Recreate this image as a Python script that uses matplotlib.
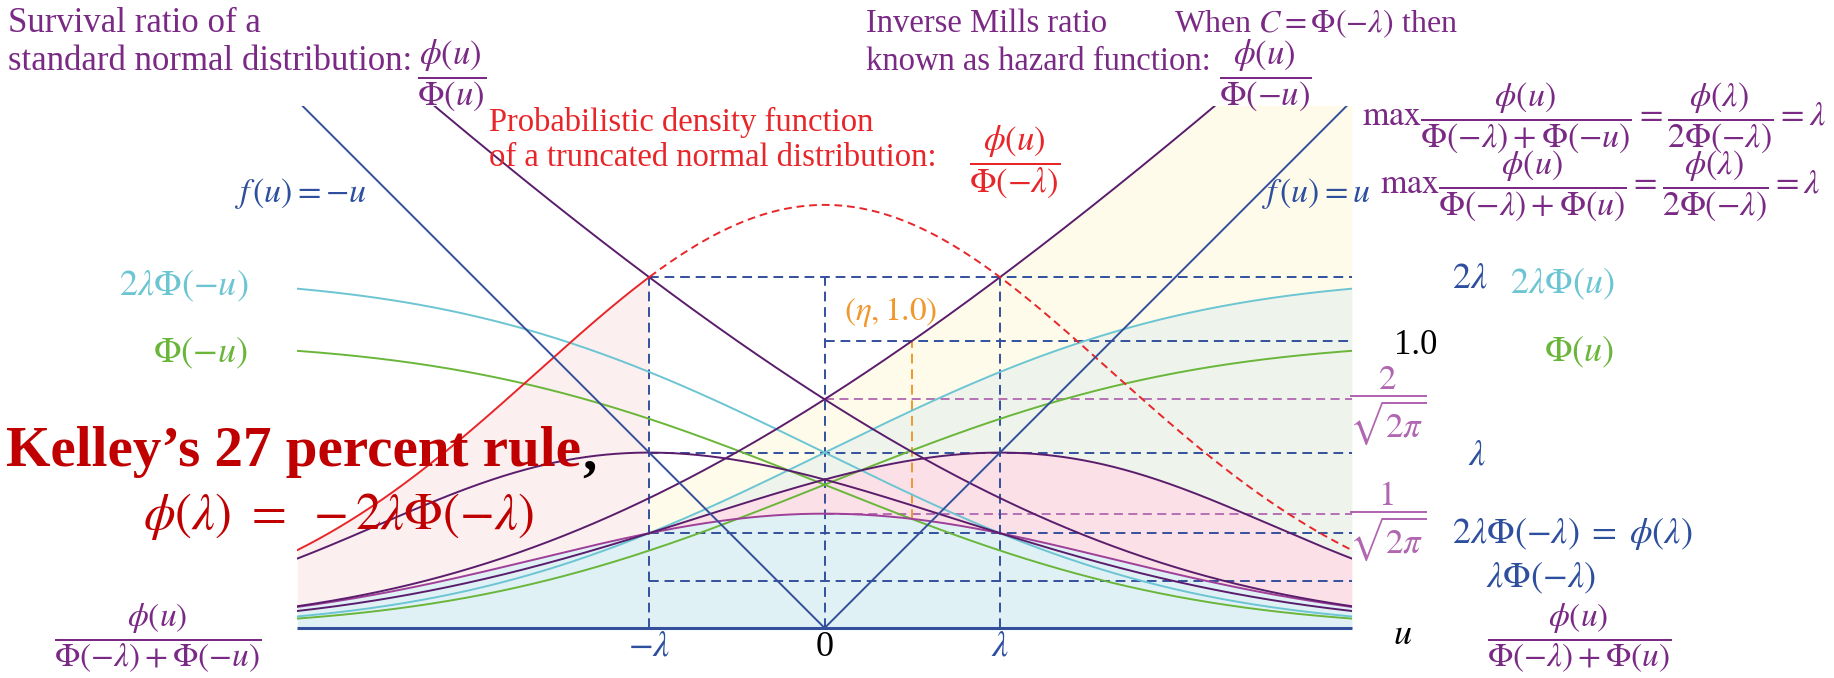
import math
import numpy as np
import matplotlib
matplotlib.use("Agg")
import matplotlib.pyplot as plt
from matplotlib.patches import Rectangle

plt.rcParams["mathtext.fontset"] = "stix"
plt.rcParams["font.family"] = ["Liberation Serif", "DejaVu Serif"]

# ---------------- data ----------------
LAM = 0.6121            # Kelley's lambda: phi(lam) = 2*lam*Phi(-lam)
ETA = 0.305             # u where the hazard function equals 1.0
U_RANGE = [-1.84, 1.84]
Y_TOP = 1.82
V_GUIDES = [-LAM, 0.0, LAM]
TICK_POS = [-LAM, 0.0, LAM]
TICK_LABELS = [r"$-\lambda$", "0", r"$\lambda$"]

# colours
BLUE = "#34509c"
PURPLE = "#5a1d6c"
MAGENTA = "#9e3f98"
MAG_DASH = "#b066b0"
CYAN = "#6cc5d2"
GREEN = "#6ab63a"
RED = "#e8262a"
ORANGE = "#f0982e"
TXT_PURPLE = "#7a2a85"
TXT_BLUE = "#2d4f9e"
KELLEY = "#c00000"
F_BLUE = "#e0f1f6"
F_PINK = "#fbe0e7"
F_PINK_L = "#fcefef"
F_IVORY = "#fffbea"
F_GRAY = "#eef3eb"

# ---------------- canvas ----------------
W, H = 1834, 678
X0, Y0, S = 824.6, 628.0, 286.6   # pixel of origin, pixels per unit
fig = plt.figure(figsize=(W / 100, H / 100), dpi=100)
ax = fig.add_axes([0, 0, 1, 1])
ax.set_xlim(-X0 / S, (W - X0) / S)
ax.set_ylim(-(H - Y0) / S, Y0 / S)
ax.axis("off")

clip = Rectangle((U_RANGE[0], -0.02), U_RANGE[1] - U_RANGE[0], Y_TOP + 0.02,
                 facecolor="none", edgecolor="none")
ax.add_patch(clip)


def phi(x):
    return np.exp(-x ** 2 / 2) / np.sqrt(2 * np.pi)


_erf = np.vectorize(math.erf)


def Phi(x):
    return 0.5 * (1 + _erf(np.asarray(x) / np.sqrt(2)))


u = np.linspace(U_RANGE[0], U_RANGE[1], 1500)
C = float(Phi(-LAM))
pdf = phi(u)
hazard = pdf / Phi(-u)
survival = pdf / Phi(u)
bell_r = pdf / (C + Phi(-u))
bell_l = pdf / (C + Phi(u))
trunc = pdf / C
cyan_r = 2 * LAM * Phi(u)
cyan_l = 2 * LAM * Phi(-u)
green_r = Phi(u)
green_l = Phi(-u)


def clipped(artist):
    artist.set_clip_path(clip)
    return artist


# ---------------- fills ----------------
clipped(ax.fill_between(u, cyan_r, np.minimum(hazard, 5), where=(u >= -LAM) & (hazard > cyan_r),
                        interpolate=True, color=F_IVORY, lw=0, zorder=1))
clipped(ax.fill_between(u, bell_r, cyan_r, where=(u >= -LAM) & (cyan_r > bell_r),
                        interpolate=True, color=F_GRAY, lw=0, zorder=1))
clipped(ax.fill_between(u, 0, pdf, color=F_BLUE, lw=0, zorder=2))
clipped(ax.fill_between(u, pdf, trunc, where=u <= -LAM, color=F_PINK_L, lw=0, zorder=2))
clipped(ax.fill_between(u, pdf, bell_r, where=u >= -LAM, interpolate=True,
                        color=F_PINK, lw=0, zorder=2))

# ---------------- guides ----------------
DASH = (5, 3)
lvl_blue = [(2 * LAM, -LAM), (1.0, 0.0), (LAM, -LAM), (float(phi(LAM)), -LAM),
            (LAM * C, -LAM)]
for lv, start in lvl_blue:
    ax.plot([start, U_RANGE[1]], [lv, lv], color=BLUE, lw=1.4, dashes=DASH, zorder=3)
for lv in [2 / math.sqrt(2 * math.pi), 1 / math.sqrt(2 * math.pi)]:
    ax.plot([0, U_RANGE[1]], [lv, lv], color=MAG_DASH, lw=1.3, dashes=DASH, zorder=3)
for xv in V_GUIDES:
    ax.plot([xv, xv], [0, 2 * LAM], color=BLUE, lw=1.4, dashes=DASH, zorder=3)
ax.plot([ETA, ETA], [float(phi(ETA)), 1.0], color=ORANGE, lw=1.4, dashes=DASH, zorder=3)

# ---------------- curves ----------------
LW = 1.4
ax.plot(U_RANGE, [0, 0], color=BLUE, lw=2.2, zorder=6, solid_capstyle="butt")
clipped(ax.plot(u, green_l, color=GREEN, lw=LW, zorder=4)[0])
clipped(ax.plot(u, green_r, color=GREEN, lw=LW, zorder=4)[0])
clipped(ax.plot(u, cyan_l, color=CYAN, lw=LW, zorder=4)[0])
clipped(ax.plot(u, cyan_r, color=CYAN, lw=LW, zorder=4)[0])
clipped(ax.plot(u, pdf, color=MAGENTA, lw=LW, zorder=4)[0])
clipped(ax.plot(u, bell_r, color=PURPLE, lw=LW, zorder=4)[0])
clipped(ax.plot(u, bell_l, color=PURPLE, lw=LW, zorder=4)[0])
clipped(ax.plot(u, hazard, color=PURPLE, lw=LW, zorder=4)[0])
clipped(ax.plot(u, survival, color=PURPLE, lw=LW, zorder=4)[0])
m = u <= -LAM
clipped(ax.plot(u[m], trunc[m], color=RED, lw=LW, zorder=4)[0])
m = u >= -LAM
clipped(ax.plot(u[m], trunc[m], color=RED, lw=LW, dashes=(4, 2.5), zorder=4)[0])
m = u <= 0
clipped(ax.plot(u[m], -u[m], color=BLUE, lw=LW, zorder=5)[0])
m = u >= 0
clipped(ax.plot(u[m], u[m], color=BLUE, lw=LW, zorder=5)[0])


# ---------------- text ----------------
def T(x, y, s, color, size=24, ha="left", va="center", **kw):
    return fig.text(x / W, 1 - y / H, s, color=color, fontsize=size, ha=ha, va=va, **kw)


FS = 24
MS = 26   # stand-alone math labels
T(8, 24, "Survival ratio of a", TXT_PURPLE, size=25)
T(8, 62, "standard normal distribution:", TXT_PURPLE, size=25)
T(452, 76, r"$\dfrac{\phi(u)}{\Phi(u)}$", TXT_PURPLE, ha="center", size=25)

T(866, 24, "Inverse Mills ratio", TXT_PURPLE, size=23.5)
T(866, 62, "known as hazard function:", TXT_PURPLE, size=23.5)
T(1265, 76, r"$\dfrac{\phi(u)}{\Phi(-u)}$", TXT_PURPLE, ha="center", size=25)

T(1174, 24, r"When $C=\Phi(-\lambda)$ then", TXT_PURPLE, size=23)
T(1362, 118, r"$\max\dfrac{\phi(u)}{\Phi(-\lambda)+\Phi(-u)}=\dfrac{\phi(\lambda)}{2\Phi(-\lambda)}=\lambda$",
  TXT_PURPLE, size=24.5)
T(1380, 186, r"$\max\dfrac{\phi(u)}{\Phi(-\lambda)+\Phi(u)}=\dfrac{\phi(\lambda)}{2\Phi(-\lambda)}=\lambda$",
  TXT_PURPLE, size=24.5)

T(489, 122, "Probabilistic density function", RED, size=23.5)
T(489, 158, "of a truncated normal distribution:", RED, size=23.5)
T(1015, 162, r"$\dfrac{\phi(u)}{\Phi(-\lambda)}$", RED, ha="center", size=25)

T(234, 194, r"$f\,(u)=-u$", TXT_BLUE, size=24.5)
T(1261, 194, r"$f\,(u)=u$", TXT_BLUE, size=24.5)
T(248, 286, r"$2\lambda\Phi(-u)$", CYAN, ha="right", size=MS)
T(248, 353, r"$\Phi(-u)$", GREEN, ha="right", size=MS)
T(844, 312, r"$(\eta,1.0)$", ORANGE, size=24)

T(1452, 279, r"$2\lambda$", TXT_BLUE, size=MS)
T(1510, 284, r"$2\lambda\Phi(u)$", CYAN, size=MS)
T(1394, 345, "1.0", "black", size=25)
T(1544, 352, r"$\Phi(u)$", GREEN, size=MS)
T(1388, 406, r"$\dfrac{2}{\sqrt{2\pi}}$", MAG_DASH, ha="center", size=25)
T(1477, 456, r"$\lambda$", TXT_BLUE, ha="center", size=MS)
T(1388, 522, r"$\dfrac{1}{\sqrt{2\pi}}$", MAG_DASH, ha="center", size=25)
T(1452, 534, r"$2\lambda\Phi(-\lambda)\;=\;\phi(\lambda)$", TXT_BLUE, size=MS)
T(1486, 578, r"$\lambda\Phi(-\lambda)$", TXT_BLUE, size=MS)
T(1403, 635, r"$u$", "black", ha="center", size=MS)
T(1579, 638, r"$\dfrac{\phi(u)}{\Phi(-\lambda)+\Phi(u)}$", TXT_PURPLE, ha="center", size=24)
T(158, 638, r"$\dfrac{\phi(u)}{\Phi(-\lambda)+\Phi(-u)}$", TXT_PURPLE, ha="center", size=24)

for pos, lab in zip(TICK_POS, TICK_LABELS):
    ax.text(pos, -(647 - Y0) / S, lab, ha="center", va="center", fontsize=MS,
            color="black" if lab == "0" else TXT_BLUE)

k = T(6, 452, "Kelley\u2019s 27 percent rule", KELLEY, size=41, weight="bold")
fig.canvas.draw()
bb = k.get_window_extent()
T(bb.x1 + 1, 455, ",", "black", size=41, weight="bold")
T(143, 517, r"$\phi(\lambda)\ =\ -2\lambda\Phi(-\lambda)$", KELLEY, size=36.5)

fig.savefig("out.png", dpi=100)
